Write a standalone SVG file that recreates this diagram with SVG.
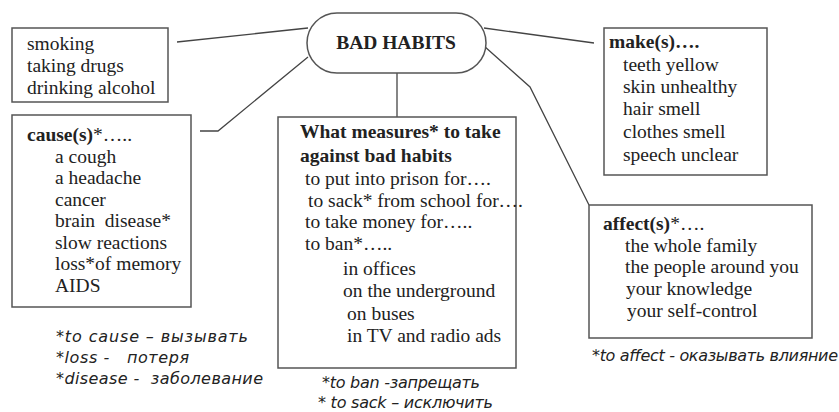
<svg xmlns="http://www.w3.org/2000/svg" width="839" height="412" viewBox="0 0 839 412">
<style>
.box{fill:#fff;stroke:#555;stroke-width:1.5}
.con{fill:none;stroke:#444;stroke-width:1.3}
.t{font-family:'Liberation Serif','DejaVu Serif','Times New Roman',serif;font-size:19.5px;fill:#222}
.b{font-weight:bold}
.n{font-family:'DejaVu Sans','Liberation Sans',sans-serif;font-style:italic;font-size:16px;fill:#222}
</style>
<rect width="839" height="412" fill="#fff"/>
<g id="connectors">
<line class="con" x1="177" y1="42" x2="308" y2="28"/>
<polyline class="con" points="308,57 218,131 200,131"/>
<line class="con" x1="397" y1="73" x2="397" y2="117"/>
<line class="con" x1="484" y1="28" x2="594" y2="43"/>
<polyline class="con" points="484,46 530,87 589,205"/>
</g>
<g id="bad-habits">
<rect class="box" x="307" y="13" width="179" height="60" rx="30"/>
<text class="t b" x="396" y="49" text-anchor="middle">BAD HABITS</text>
</g>
<g id="habits">
<rect class="box" x="12" y="28" width="156" height="74"/>
<text class="t" x="27" y="50">smoking</text>
<text class="t" x="27" y="72">taking drugs</text>
<text class="t" x="27" y="94">drinking alcohol</text>
</g>
<g id="causes">
<rect class="box" x="12" y="115" width="179" height="192"/>
<text class="t" x="27" y="141"><tspan class="b">cause(s)</tspan>*…..</text>
<text class="t" x="55" y="163">a cough</text>
<text class="t" x="55" y="184">a headache</text>
<text class="t" x="55" y="206">cancer</text>
<text class="t" x="55" y="227" xml:space="preserve">brain  disease*</text>
<text class="t" x="55" y="249">slow reactions</text>
<text class="t" x="55" y="270">loss*of memory</text>
<text class="t" x="55" y="292">AIDS</text>
</g>
<g id="measures">
<rect class="box" x="278" y="117" width="238" height="251"/>
<text class="t b" x="300" y="138">What measures* to take</text>
<text class="t b" x="300" y="162">against bad habits</text>
<text class="t" x="305" y="185">to put into prison for….</text>
<text class="t" x="308" y="207">to sack* from school for….</text>
<text class="t" x="305" y="228">to take money for…..</text>
<text class="t" x="305" y="250">to ban*…..</text>
<text class="t" x="343" y="275">in offices</text>
<text class="t" x="343" y="297">on the underground</text>
<text class="t" x="347" y="320">on buses</text>
<text class="t" x="347" y="342">in TV and radio ads</text>
</g>
<g id="makes">
<rect class="box" x="604" y="28" width="163" height="147"/>
<text class="t b" x="609" y="48">make(s)….</text>
<text class="t" x="623" y="71">teeth yellow</text>
<text class="t" x="623" y="93">skin unhealthy</text>
<text class="t" x="623" y="115">hair smell</text>
<text class="t" x="623" y="138">clothes smell</text>
<text class="t" x="623" y="161">speech unclear</text>
</g>
<g id="affects">
<rect class="box" x="589" y="205" width="223" height="133"/>
<text class="t" x="603" y="230"><tspan class="b">affect(s)</tspan>*….</text>
<text class="t" x="625" y="252">the whole family</text>
<text class="t" x="625" y="273">the people around you</text>
<text class="t" x="626" y="295">your knowledge</text>
<text class="t" x="627" y="317">your self-control</text>
</g>
<g id="notes">
<text class="n" x="56" y="342" textLength="192" lengthAdjust="spacing">*to cause – вызывать</text>
<text class="n" x="56" y="363" xml:space="preserve" textLength="133" lengthAdjust="spacing">*loss -   потеря</text>
<text class="n" x="56" y="384" xml:space="preserve" textLength="207" lengthAdjust="spacing">*disease -  заболевание</text>
<text class="n" x="322" y="388" textLength="158" lengthAdjust="spacing">*to ban -запрещать</text>
<text class="n" x="318" y="408" textLength="175" lengthAdjust="spacing">* to sack – исключить</text>
<text class="n" x="592" y="361" textLength="246" lengthAdjust="spacing">*to affect - оказывать влияние</text>
</g>
</svg>
